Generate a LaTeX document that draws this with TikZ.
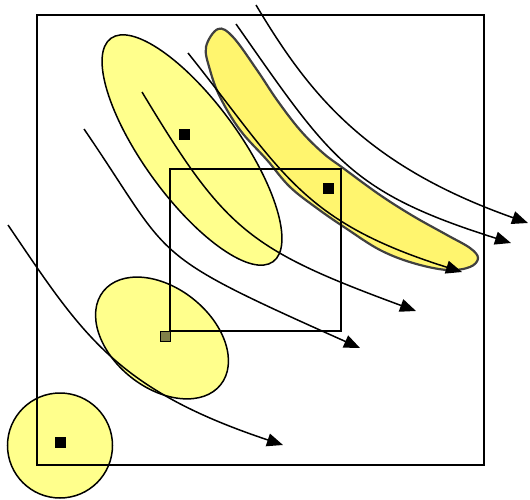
\documentclass[tikz,border=0pt]{standalone}
\usepackage{tikz}
\usepackage{xcolor}
\usetikzlibrary{arrows.meta,calc}
\definecolor{paleyel}{RGB}{255,255,140}
\definecolor{bandyel}{RGB}{255,245,110}
\definecolor{olivesq}{RGB}{128,128,72}

\begin{document}
\begin{tikzpicture}[
          x=1pt, y=-1pt,
          blob/.style={draw, line width=1.5pt, fill=paleyel},
          band/.style={draw=black!75, line width=2.2pt, fill=bandyel},
          frame/.style={draw, line width=1.6pt},
          flow/.style={line width=1.5pt, -{Triangle[length=16pt,width=13pt]}},
          sqdot/.style={draw, line width=1pt, fill=black, inner sep=0pt, minimum size=10pt},
          sqseed/.style={draw, line width=1pt, fill=olivesq, inner sep=0pt, minimum size=10pt}
      ]
        \useasboundingbox (0,0) rectangle (530,500);

        \coordinate (c0) at (60,445.5);
        \coordinate (e1) at (192,150);
        \coordinate (e2) at (162,338);

        \draw[blob] (c0) circle [radius=52.5];
        \draw[blob, rotate around={-54:(e1)}] (e1) ellipse [x radius=138, y radius=48];
        \draw[blob, rotate around={-38.5:(e2)}] (e2) ellipse [x radius=75, y radius=50];
        \draw[band] plot[smooth cycle, tension=0.6] coordinates {
          (218,29) (233,37) (257,70) (277,100) (300,130) (323,153) (343,168)
          (380,195) (413,216) (447,235) (470,248) (478,258) (470,267) (447,270)
          (413,263) (380,250) (347,229) (318,209) (290,187) (267,160) (240,130)
          (220,97) (210,70) (206,47)};

        \draw[frame] (37,15) rectangle (484,465);
        \draw[frame] (170,169) rectangle (341,331);

        \coordinate (f1a) at (256,5);   \coordinate (f1b) at (528,223);
        \coordinate (f2a) at (236,24);  \coordinate (f2b) at (511,243);
        \coordinate (f3a) at (188,53);  \coordinate (f3b) at (462,272);
        \coordinate (f4a) at (142,92);  \coordinate (f4b) at (416,311);
        \coordinate (f5a) at (84,129);  \coordinate (f5b) at (360,348);
        \coordinate (f6a) at (8,225);   \coordinate (f6b) at (283,445);

        \draw[flow] (f1a) .. controls (308,92) and (364,165) .. (f1b);
        \draw[flow] (f2a) .. controls (330,158) and (349,192) .. (f2b);
        \draw[flow] (f3a) .. controls (283,172) and (300,221) .. (f3b);
        \draw[flow] (f4a) .. controls (225,230) and (248,249) .. (f4b);
        \draw[flow] (f5a) .. controls (175,262) and (143,251) .. (f5b);
        \draw[flow] (f6a) .. controls (82,334) and (115,389) .. (f6b);

        \node[sqdot] (s1) at (184.5,135) {};
        \node[sqdot] (s2) at (328,188.5) {};
        \node[sqdot] (s3) at (60.5,442) {};
        \node[sqseed] (s4) at (165.3,336.3) {};
      \end{tikzpicture}
\end{document}
